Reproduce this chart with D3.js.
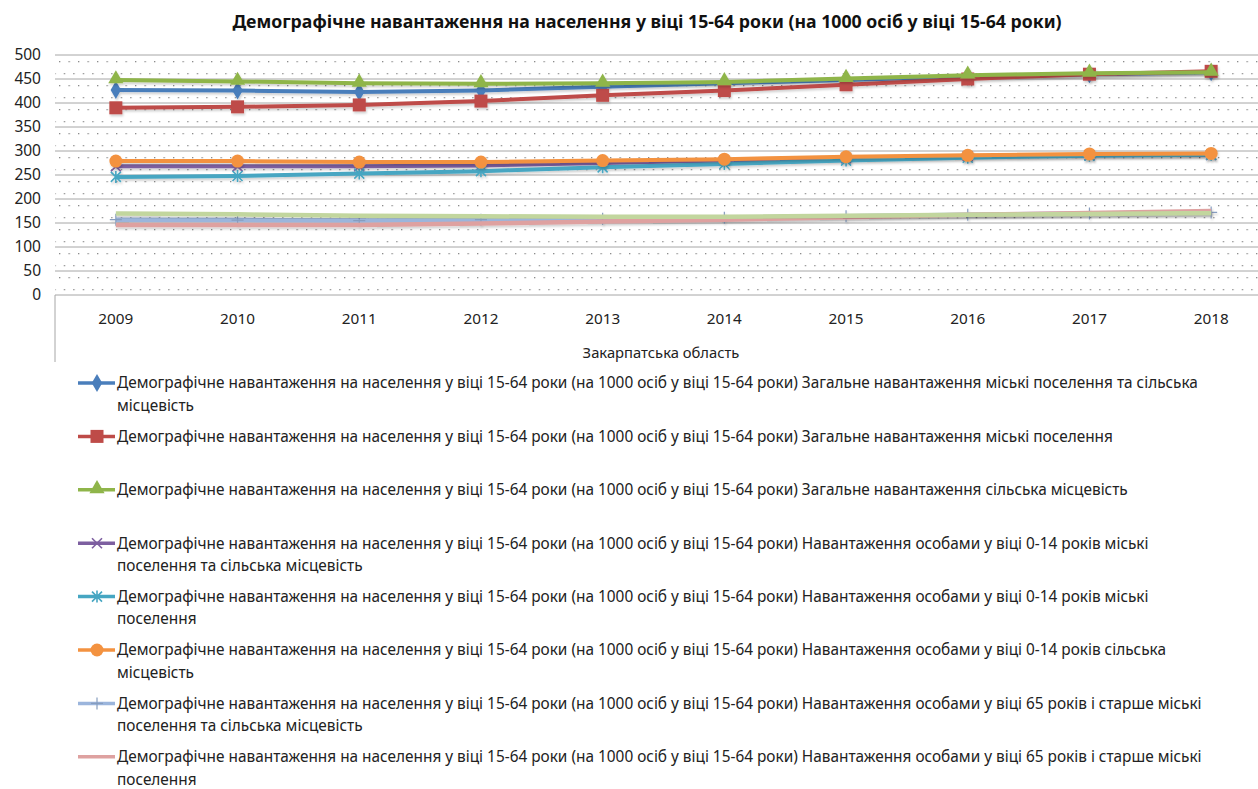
<!DOCTYPE html>
<html>
<head>
<meta charset="utf-8">
<script src="https://cdnjs.cloudflare.com/ajax/libs/d3/7.8.5/d3.min.js"></script>
<style>
  body { margin: 0; background: #fff; }
  svg { display: block; font-family: "Noto Sans", "Open Sans", sans-serif; }
  .grid line { stroke: #a6a6a6; stroke-width: 1; }
  .ylab, .xlab, .cat { fill: #222; }
</style>
</head>
<body>
<div id="chart"></div>
<script>

/* data */

var years = ["2009", "2010", "2011", "2012", "2013", "2014", "2015", "2016", "2017", "2018"];
var yTicks = [0, 50, 100, 150, 200, 250, 300, 350, 400, 450, 500];

var prefix = "Демографічне навантаження на населення у віці 15-64 роки (на 1000 осіб у віці 15-64 роки) ";

var totalAll      = [427, 426, 423, 426, 434, 441, 448, 455, 460, 464];
var totalUrban    = [390, 392, 396, 404, 416, 426, 438, 450, 460, 466];
var totalRural    = [448, 445, 441, 440, 441, 444, 451, 458, 462, 464];
var youngAll      = [268, 268, 268, 270, 275, 280, 285, 289, 291, 292];
var youngUrban    = [246, 248, 253, 258, 266, 273, 280, 286, 290, 292];
var youngRural    = [279, 279, 277, 277, 280, 283, 288, 291, 294, 295];
var oldAll        = [157, 156, 155, 157, 159, 161, 164, 167, 170, 172];
var oldUrban      = [146, 146, 146, 149, 153, 157, 162, 167, 171, 175];
var oldRural      = [170, 168, 165, 164, 163, 163, 165, 167, 169, 171];

var seriesNames = [
  "Загальне навантаження міські поселення та сільська місцевість",
  "Загальне навантаження міські поселення",
  "Загальне навантаження сільська місцевість",
  "Навантаження особами у віці 0-14 років міські поселення та сільська місцевість",
  "Навантаження особами у віці 0-14 років міські поселення",
  "Навантаження особами у віці 0-14 років сільська місцевість",
  "Навантаження особами у віці 65 років і старше міські поселення та сільська місцевість",
  "Навантаження особами у віці 65 років і старше міські поселення",
  "Навантаження особами у віці 65 років і старше сільська місцевість"
];
var seriesValues = [totalAll, totalUrban, totalRural, youngAll, youngUrban, youngRural, oldAll, oldUrban, oldRural];
var seriesColors = ["#4a7ebb", "#be4b48", "#8fb54a", "#7d5fa0", "#46a6c2", "#f39240", "#9bb5dc", "#dea1a0", "#c2d69e"];
var seriesMarkers = ["diamond", "square", "triangle", "x", "star", "circle", "plus", "none", "none"];

// set the dimensions of the plot
var W = 1258, H = 789;
var plotLeft = 55, plotRight = 55 + 1217, plotTop = 55, plotBottom = 295;

var svg = d3.select("#chart").append("svg")
    .attr("width", W)
    .attr("height", H);

// helper: pick a font size so the text gets the wanted width
function fitText(sel, wanted) {
  var w = sel.node().getComputedTextLength();
  var fs = parseFloat(sel.style("font-size"));
  sel.style("font-size", (fs * wanted / w) + "px");
  return fs * wanted / w;
}

// dotted fill of the plot area
var defs = svg.append("defs");
var pat = defs.append("pattern")
    .attr("id", "dots")
    .attr("patternUnits", "userSpaceOnUse")
    .attr("x", plotLeft + 4).attr("y", plotTop + 6)
    .attr("width", 9.5).attr("height", 24);
pat.append("rect").attr("x", 0).attr("y", 0).attr("width", 1.3).attr("height", 1.3).attr("fill", "#8a8a8a");
pat.append("rect").attr("x", 4.75).attr("y", 12).attr("width", 1.3).attr("height", 1.3).attr("fill", "#8a8a8a");

var shadow = defs.append("filter").attr("id", "shadow")
    .attr("x", "-5%").attr("y", "-50%").attr("width", "110%").attr("height", "200%");
shadow.append("feDropShadow").attr("dx", 1).attr("dy", 2).attr("stdDeviation", 1.2)
    .attr("flood-color", "#000").attr("flood-opacity", 0.18);

// set the ranges
var x = d3.scalePoint().domain(years).range([plotLeft, plotRight]).padding(0.5);
var y = d3.scaleLinear().domain([0, 500]).range([plotBottom, plotTop]);

svg.append("rect")
    .attr("x", plotLeft).attr("y", plotTop)
    .attr("width", plotRight - plotLeft).attr("height", plotBottom - plotTop)
    .attr("fill", "url(#dots)");

// gridlines
svg.append("g").attr("class", "grid")
  .selectAll("line").data(yTicks).enter().append("line")
    .attr("x1", plotLeft).attr("x2", plotRight)
    .attr("y1", function(d) { return y(d); })
    .attr("y2", function(d) { return y(d); });

// y labels
svg.append("g").selectAll("text").data(yTicks).enter().append("text")
    .attr("class", "ylab")
    .attr("x", 41)
    .attr("y", function(d) { return y(d); })
    .attr("dy", "0.35em")
    .attr("text-anchor", "end")
    .style("font-size", "15.5px")
    .text(function(d) { return d; });

// category axis below the plot
svg.append("line")
    .attr("x1", plotLeft).attr("x2", plotLeft)
    .attr("y1", plotBottom).attr("y2", 362)
    .attr("stroke", "#a6a6a6");

svg.append("g").selectAll("text").data(years).enter().append("text")
    .attr("class", "xlab")
    .attr("x", function(d) { return x(d); })
    .attr("y", 324)
    .attr("text-anchor", "middle")
    .style("font-size", "15.3px")
    .text(function(d) { return d; });

var cat = svg.append("text")
    .attr("class", "cat")
    .attr("x", 661).attr("y", 358)
    .attr("text-anchor", "middle")
    .style("font-size", "14px")
    .text("Закарпатська область");
fitText(cat, 157);

// title
var title = svg.append("text")
    .attr("x", 647).attr("y", 28)
    .attr("text-anchor", "middle")
    .style("font-size", "15px")
    .style("font-weight", "bold")
    .attr("fill", "#111")
    .text("Демографічне навантаження на населення у віці 15-64 роки (на 1000 осіб у віці 15-64 роки)");
fitText(title, 830);

// marker drawing
function drawMarker(g, type, color, cx, cy) {
  if (type == "diamond") {
    g.append("path").attr("d", d3.symbol(d3.symbolDiamond, 95)())
      .attr("transform", "translate(" + cx + "," + cy + ")").attr("fill", color);
  } else if (type == "square") {
    g.append("rect").attr("x", cx - 6.5).attr("y", cy - 6.5).attr("width", 13).attr("height", 13)
      .attr("fill", color);
  } else if (type == "triangle") {
    g.append("path").attr("d", d3.symbol(d3.symbolTriangle, 100)())
      .attr("transform", "translate(" + cx + "," + (cy - 1) + ")").attr("fill", color);
  } else if (type == "circle") {
    g.append("circle").attr("cx", cx).attr("cy", cy).attr("r", 6.5).attr("fill", color);
  } else if (type == "x" || type == "star") {
    var s = 5;
    g.append("path")
      .attr("d", "M" + (cx - s) + "," + (cy - s) + "L" + (cx + s) + "," + (cy + s) +
                 "M" + (cx - s) + "," + (cy + s) + "L" + (cx + s) + "," + (cy - s) +
                 (type == "star" ? "M" + cx + "," + (cy - s - 1) + "L" + cx + "," + (cy + s + 1) : ""))
      .attr("stroke", color).attr("stroke-width", 1.6).attr("fill", "none");
  } else if (type == "plus") {
    var p = 6;
    g.append("path")
      .attr("d", "M" + (cx - p) + "," + cy + "L" + (cx + p) + "," + cy +
                 "M" + cx + "," + (cy - p) + "L" + cx + "," + (cy + p))
      .attr("stroke", d3.color(color).darker(0.4)).attr("stroke-width", 1.2).attr("fill", "none");
  }
}

// define the line
var valueline = d3.line()
    .x(function(d, i) { return x(years[i]); })
    .y(function(d) { return y(d); });

// draw the series
seriesValues.forEach(function(vals, k) {
  var g = svg.append("g").attr("filter", "url(#shadow)");
  g.append("path")
      .datum(vals)
      .attr("d", valueline)
      .attr("fill", "none")
      .attr("stroke", seriesColors[k])
      .attr("stroke-width", k >= 6 ? 4.5 : 4)
      .attr("stroke-linejoin", "round");
  vals.forEach(function(v, i) {
    drawMarker(g, seriesMarkers[k], seriesColors[k], x(years[i]), y(v));
  });
});

// legend
var legend = svg.append("g");
var wrapWidth = 1096;
var measure = legend.append("text").style("font-size", "14px")
    .text(prefix + "Загальне навантаження міські поселення та сільська");
var legendFont = fitText(measure, 1082);

function wrapText(str) {
  var words = str.split(" "), lines = [], cur = "";
  words.forEach(function(w) {
    var test = cur ? cur + " " + w : w;
    measure.text(test);
    if (measure.node().getComputedTextLength() > wrapWidth && cur) {
      lines.push(cur);
      cur = w;
    } else {
      cur = test;
    }
  });
  lines.push(cur);
  return lines;
}

seriesNames.forEach(function(name, k) {
  var ly = 383 + k * 53.4;
  if (ly > H) return;   // entry lies below the picture
  var lines = wrapText(prefix + name);
  var g = legend.append("g");
  g.append("line")
      .attr("x1", 78).attr("x2", 115)
      .attr("y1", ly).attr("y2", ly)
      .attr("stroke", seriesColors[k]).attr("stroke-width", 3.5);
  drawMarker(g, seriesMarkers[k], seriesColors[k], 97, ly);
  lines.forEach(function(t, j) {
    g.append("text")
        .attr("x", 117).attr("y", ly + j * 22.5)
        .attr("dy", "0.35em")
        .style("font-size", legendFont + "px")
        .attr("fill", "#222")
        .text(t);
  });
});
measure.remove();

</script>
</body>
</html>
